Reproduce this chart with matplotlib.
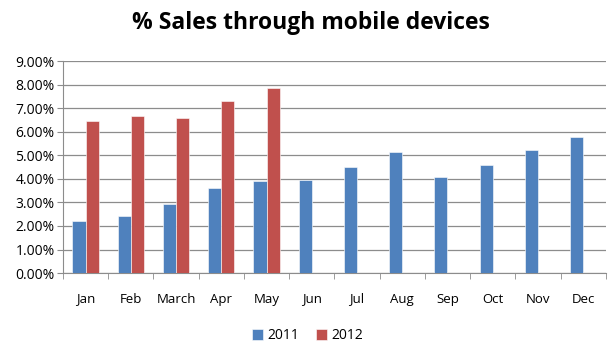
import matplotlib.pyplot as plt
import numpy as np
from matplotlib.ticker import FuncFormatter

months = ['Jan', 'Feb', 'March', 'Apr', 'May', 'Jun', 'Jul', 'Aug', 'Sep', 'Oct', 'Nov', 'Dec']
sales_2011 = [2.21, 2.41, 2.92, 3.63, 3.91, 3.97, 4.49, 5.15, 4.09, 4.59, 5.24, 5.79]
sales_2012 = [6.46, 6.68, 6.59, 7.31, 7.85]

plt.rc('font', family='Open Sans', size=9)

fig = plt.figure(figsize=(6.15, 3.51), dpi=100)
ax = fig.add_axes([0.1024, 0.222, 0.8826, 0.604])

x = np.arange(len(months))
w = 0.29
ax.bar(x[:len(sales_2011)] - w / 2, sales_2011, w, color='#4F81BD', edgecolor='white', linewidth=0.4, label='2011', zorder=3)
ax.bar(x[:len(sales_2012)] + w / 2, sales_2012, w, color='#C0504D', edgecolor='white', linewidth=0.4, label='2012', zorder=3)

ax.set_xlim(-0.5, len(months) - 0.5)
ax.set_ylim(0, 9)
ax.set_yticks(np.arange(0, 10, 1))
ax.yaxis.set_major_formatter(FuncFormatter(lambda v, p: f'{v:.2f}%'))
ax.grid(axis='y', color='#8c8c8c', linewidth=0.9, zorder=0)

ax.set_xticks(x)
ax.set_xticklabels(months)
ax.set_xticks(np.arange(-0.5, len(months), 1), minor=True)
ax.tick_params(axis='x', which='major', length=0, pad=14, labelsize=9.5)
ax.tick_params(axis='x', which='minor', length=4, color='#8c8c8c')
ax.tick_params(axis='y', length=4, color='#8c8c8c', pad=2, labelsize=10)

for s in ['top', 'right']:
    ax.spines[s].set_visible(False)
ax.spines['left'].set_color('#8c8c8c')
ax.spines['bottom'].set_color('#8c8c8c')

fig.text(0.505, 0.935, '% Sales through mobile devices', ha='center', va='center',
         fontsize=16.5, fontweight='bold')

fig.legend(loc='center', bbox_to_anchor=(0.5, 0.043), ncol=2, frameon=False,
           handlelength=0.8, handleheight=0.8, handletextpad=0.3, columnspacing=1.2, fontsize=10)

plt.savefig('out.png', dpi=100)
